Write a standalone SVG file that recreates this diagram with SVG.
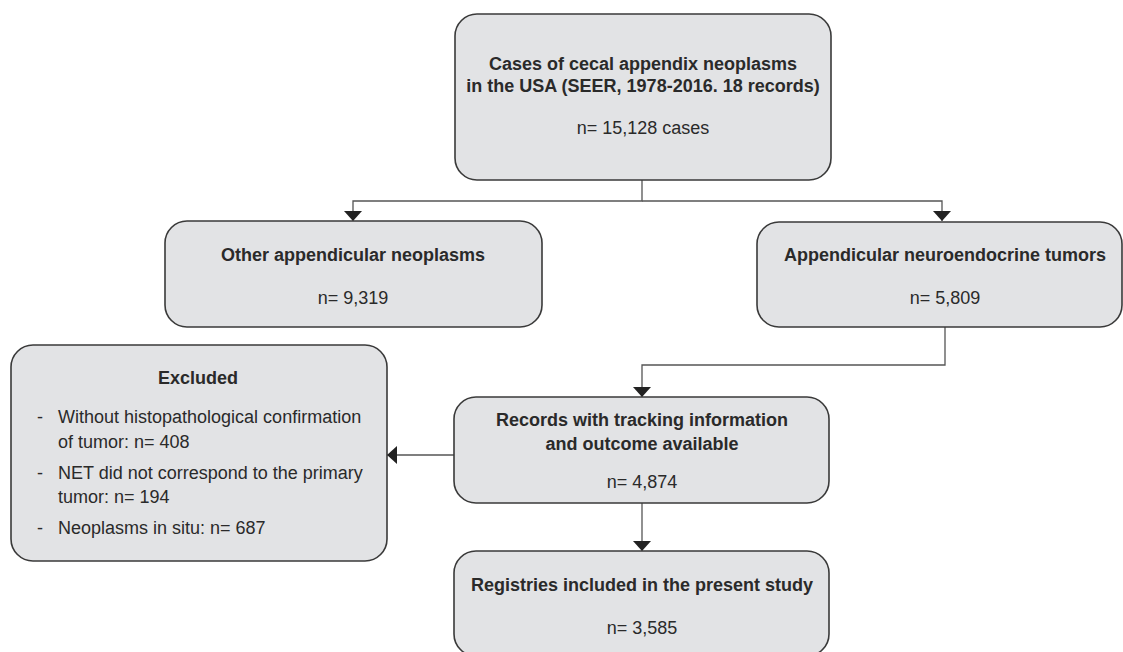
<svg xmlns="http://www.w3.org/2000/svg" width="1123" height="652" viewBox="0 0 1123 652">
<style>
.box{fill:#e2e3e5;stroke:#3a3a3a;stroke-width:1.6}
.t{font-family:"Liberation Sans",Arial,sans-serif;font-size:18px;fill:#2a2a2a}
.b{font-weight:bold}
.c{text-anchor:middle}
.ln{fill:none;stroke:#555;stroke-width:1.3}
</style>
<defs>
<marker id="ah" viewBox="0 0 10 18" refX="10" refY="9" markerWidth="10" markerHeight="18" markerUnits="userSpaceOnUse" orient="auto">
<path d="M0,0 L10,9 L0,18 Z" fill="#222"/>
</marker>
</defs>
<rect width="1123" height="652" fill="#fff"/>
<g id="connectors">
<path class="ln" d="M642,180 V201 H353 V221" marker-end="url(#ah)"/>
<path class="ln" d="M642,201 H942 V221" marker-end="url(#ah)"/>
<path class="ln" d="M945,327 V365 H642 V397" marker-end="url(#ah)"/>
<path class="ln" d="M642,503 V551" marker-end="url(#ah)"/>
<path class="ln" d="M454,455 H387" marker-end="url(#ah)"/>
</g>
<g id="cases">
<rect class="box" x="455" y="14" width="376" height="166" rx="22"/>
<text class="t b c" x="643" y="70">Cases of cecal appendix neoplasms</text>
<text class="t b c" x="643" y="92">in the USA (SEER, 1978-2016. 18 records)</text>
<text class="t c" x="643" y="134">n= 15,128 cases</text>
</g>
<g id="other">
<rect class="box" x="165" y="221" width="377" height="106" rx="22"/>
<text class="t b c" x="353" y="261">Other appendicular neoplasms</text>
<text class="t c" x="353" y="304">n= 9,319</text>
</g>
<g id="net">
<rect class="box" x="757" y="222" width="365" height="105" rx="22"/>
<text class="t b c" x="945" y="261">Appendicular neuroendocrine tumors</text>
<text class="t c" x="945" y="304">n= 5,809</text>
</g>
<g id="excluded">
<rect class="box" x="11" y="345" width="376" height="216" rx="22"/>
<text class="t b c" x="198" y="384">Excluded</text>
<text class="t" x="37" y="423">-</text>
<text class="t" x="58" y="423">Without histopathological confirmation</text>
<text class="t" x="58" y="448">of tumor: n= 408</text>
<text class="t" x="37" y="479">-</text>
<text class="t" x="58" y="479">NET did not correspond to the primary</text>
<text class="t" x="58" y="503">tumor: n= 194</text>
<text class="t" x="37" y="534">-</text>
<text class="t" x="58" y="534">Neoplasms in situ: n= 687</text>
</g>
<g id="records">
<rect class="box" x="454" y="397" width="375" height="106" rx="22"/>
<text class="t b c" x="642" y="426">Records with tracking information</text>
<text class="t b c" x="642" y="450">and outcome available</text>
<text class="t c" x="642" y="488">n= 4,874</text>
</g>
<g id="registries">
<rect class="box" x="454" y="551" width="375" height="105" rx="22"/>
<text class="t b c" x="642" y="591">Registries included in the present study</text>
<text class="t c" x="642" y="634">n= 3,585</text>
</g>
</svg>
